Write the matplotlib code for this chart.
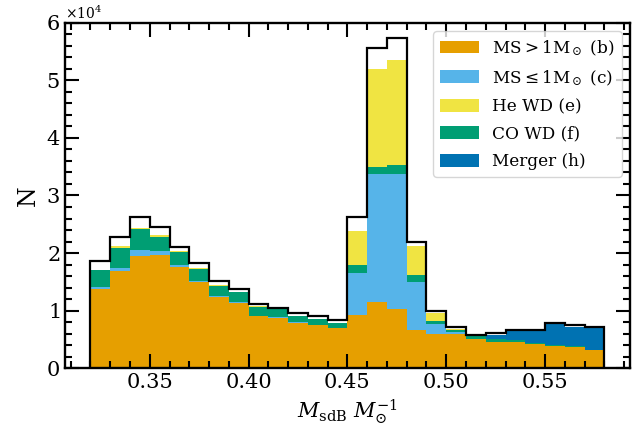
import numpy as np
import matplotlib
matplotlib.use('Agg')
import matplotlib.pyplot as plt
import matplotlib.ticker as ticker

# bin edges of M_sdB / M_sun
edges = np.round(np.arange(0.32, 0.5801, 0.01), 2)

# counts per bin (units of 1e4)
ms_gt1 = [1.37, 1.69, 1.94, 1.96, 1.76, 1.49, 1.24, 1.13, 0.90, 0.87, 0.79, 0.74, 0.69,
          0.92, 1.14, 1.02, 0.66, 0.60, 0.59, 0.50, 0.46, 0.45, 0.41, 0.38, 0.37, 0.31]
ms_le1 = [0.04, 0.05, 0.11, 0.07, 0.04, 0.03, 0.02, 0.01, 0.01, 0.01, 0.01, 0.01, 0.01,
          0.74, 2.23, 2.35, 0.84, 0.17, 0.03, 0.01, 0.00, 0.00, 0.00, 0.00, 0.00, 0.00]
co_wd = [0.29, 0.35, 0.36, 0.25, 0.21, 0.20, 0.17, 0.18, 0.16, 0.14, 0.10, 0.10, 0.08,
         0.13, 0.13, 0.16, 0.12, 0.05, 0.05, 0.04, 0.04, 0.04, 0.02, 0.02, 0.02, 0.01]
he_wd = [0.01, 0.03, 0.03, 0.03, 0.02, 0.02, 0.02, 0.01, 0.01, 0.01, 0.01, 0.00, 0.00,
         0.60, 1.70, 1.83, 0.51, 0.13, 0.01, 0.00, 0.00, 0.00, 0.00, 0.00, 0.00, 0.00]
merger = [0.0, 0.0, 0.0, 0.0, 0.0, 0.0, 0.0, 0.0, 0.0, 0.0, 0.0, 0.0, 0.0,
          0.0, 0.0, 0.0, 0.0, 0.0, 0.0, 0.01, 0.07, 0.15, 0.21, 0.36, 0.33, 0.39]
total = [1.86, 2.28, 2.62, 2.46, 2.11, 1.82, 1.51, 1.38, 1.11, 1.05, 0.95, 0.90, 0.83,
         2.63, 5.57, 5.73, 2.20, 0.99, 0.71, 0.575, 0.61, 0.66, 0.66, 0.78, 0.74, 0.72]

plt.rcParams['font.family'] = 'DejaVu Serif'
plt.rcParams['mathtext.fontset'] = 'dejavuserif'

fig = plt.figure(figsize=(6.41, 4.33), dpi=100)
ax = fig.add_axes([0.101, 0.150, 0.882, 0.797])

centers = edges[:-1] + 0.005
scale = 1e4
layers = [ms_gt1, ms_le1, co_wd, he_wd, merger]
colors = ['#E69F00', '#56B4E9', '#009E73', '#F0E442', '#0072B2']
labels = [r'MS$>$1M$_\odot$ (b)', r'MS$\leq$1M$_\odot$ (c)', 'CO WD (f)', 'He WD (e)', 'Merger (h)']

_, _, patches = ax.hist([centers] * 5, bins=edges,
                        weights=[np.array(l) * scale for l in layers],
                        stacked=True, histtype='stepfilled', color=colors, label=labels)
ax.hist(centers, bins=edges, weights=np.array(total) * scale, histtype='step',
        color='k', lw=1.6, zorder=5)

ax.set_xlim(0.307, 0.593)
ax.set_ylim(0, 6e4)
ax.xaxis.set_major_locator(ticker.MultipleLocator(0.05))
ax.xaxis.set_minor_locator(ticker.MultipleLocator(0.01))
ax.yaxis.set_major_locator(ticker.MultipleLocator(1e4))
ax.yaxis.set_minor_locator(ticker.MultipleLocator(2e3))
ax.ticklabel_format(axis='y', style='sci', scilimits=(4, 4), useMathText=True)
ax.yaxis.get_offset_text().set_fontsize(10)

ax.tick_params(which='both', direction='in', top=True, right=True, labelsize=15, width=1.5)
ax.tick_params(which='major', length=10)
ax.tick_params(which='minor', length=5)
for s in ax.spines.values():
    s.set_linewidth(1.7)

ax.set_xlabel(r'$M_{\rm sdB}\ M_{\odot}^{-1}$', fontsize=15)
ax.set_ylabel('N', fontsize=17)

handles = [patches[0][0], patches[1][0], patches[3][0], patches[2][0], patches[4][0]]
names = [labels[0], labels[1], labels[3], labels[2], labels[4]]
ax.legend(handles, names, loc='upper right', fontsize=12.2, handlelength=2.3,
          handleheight=0.8, labelspacing=0.62, borderaxespad=0.5)

fig.savefig('out.png', dpi=100)
